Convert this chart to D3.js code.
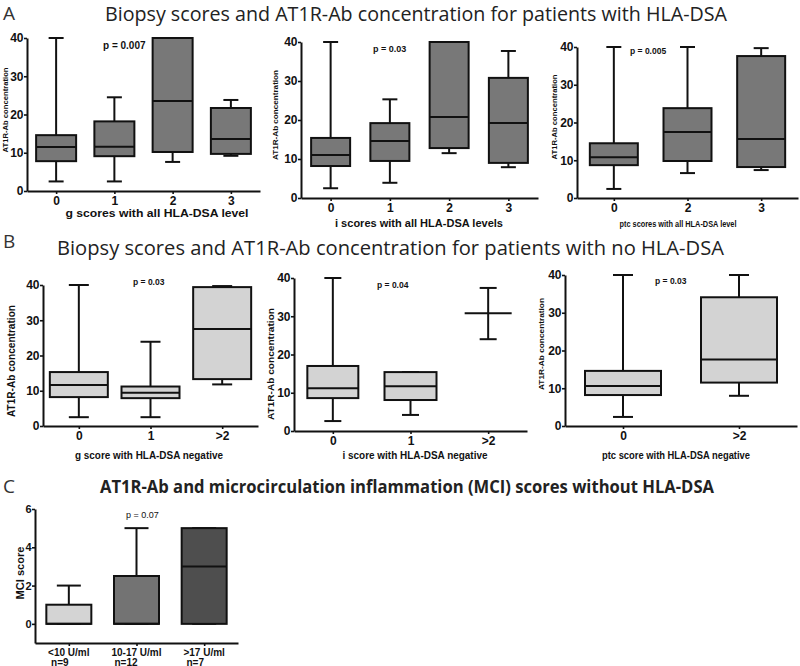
<!DOCTYPE html>
<html><head><meta charset="utf-8">
<script src="https://cdn.jsdelivr.net/npm/d3@7"></script>
<style>body{margin:0;background:#fff}svg{display:block}</style>
</head><body>
<script>
// ---------- DATA ----------
// Panel A: patients with HLA-DSA
const aG_cats = ["0","1","2","3"];
const aG_min  = [2.5, 2.5, 7.6, 9.2];
const aG_q1   = [7.8, 9.1, 10.2, 9.7];
const aG_med  = [11.5, 11.6, 23.5, 13.6];
const aG_q3   = [14.6, 18.2, 40, 21.7];
const aG_max  = [40, 24.5, 40, 23.8];

const aI_cats = ["0","1","2","3"];
const aI_min  = [2.5, 3.9, 11.5, 7.9];
const aI_q1   = [8.2, 9.5, 12.8, 9.0];
const aI_med  = [11.0, 14.6, 20.8, 19.2];
const aI_q3   = [15.4, 19.2, 40, 30.8];
const aI_max  = [40, 25.3, 40, 37.7];

const aP_cats = ["0","2","3"];
const aP_min  = [2.4, 6.6, 7.4];
const aP_q1   = [8.7, 9.8, 8.2];
const aP_med  = [10.8, 17.5, 15.6];
const aP_q3   = [14.5, 23.8, 37.6];
const aP_max  = [40, 40, 39.7];

// Panel B: patients with no HLA-DSA
const bG_cats = ["0","1",">2"];
const bG_min  = [2.5, 2.5, 11.8];
const bG_q1   = [8.2, 7.9, 13.3];
const bG_med  = [11.6, 9.4, 27.5];
const bG_q3   = [15.3, 11.2, 39.4];
const bG_max  = [40, 23.9, 39.7];

const bI_cats = ["0","1",">2"];
const bI_min  = [2.6, 4.2, 24.0];
const bI_q1   = [8.6, 8.1, 30.8];
const bI_med  = [11.2, 11.7, 30.8];
const bI_q3   = [17.0, 15.4, 30.8];
const bI_max  = [40, 15.4, 37.4];

const bP_cats = ["0",">2"];
const bP_min  = [2.4, 8.0];
const bP_q1   = [8.2, 11.5];
const bP_med  = [10.6, 17.6];
const bP_q3   = [14.6, 34.1];
const bP_max  = [40, 40];

// Panel C: MCI scores
const c_cats  = ["<10 U/ml","10-17 U/ml",">17 U/ml"];
const c_n     = ["n=9","n=12","n=7"];
const c_min   = [0, 0, 0];
const c_q1    = [0, 0, 0];
const c_med   = [0, 0, 3];
const c_q3    = [1, 2.5, 5];
const c_max   = [2, 5, 5];

const abTicks = [0,10,20,30,40];
const cTicks  = [0,2,4,6];

// ---------- DRAWING ----------
const svg = d3.select("body").append("svg").attr("width",800).attr("height",666)
  .style("background","#fff");
const INK = "#111";
const LBL = "'Liberation Sans', Arial, sans-serif";
const TTL = "'Open Sans', 'Noto Sans', sans-serif";

function txt(t, x, y, o) {
  const e = svg.append("text").attr("x",x).attr("y",y).text(t)
    .attr("font-family", o.family||LBL).attr("font-size", o.size)
    .attr("font-weight", o.weight||"bold").attr("fill", o.fill||INK)
    .attr("text-anchor", o.anchor||"start");
  if (o.len) e.attr("textLength", o.len).attr("lengthAdjust","spacingAndGlyphs");
  if (o.rot) e.attr("transform",`rotate(-90,${x},${y})`).attr("dy","0.35em");
  return e;
}

function drawPanel(p) {
  const g = svg.append("g");
  const x = d3.scalePoint().domain(p.cats).range([p.x0, p.x1]).padding(0.5);
  const y = d3.scaleLinear().domain(p.domain).range([p.yBot, p.yTop]);

  const ya = g.append("g").attr("transform",`translate(${p.x0},0)`)
    .call(d3.axisLeft(y).tickValues(p.ticks).tickFormat(d3.format("d"))
      .tickSize(3).tickSizeOuter(0).tickPadding(0.5));
  const xa = g.append("g").attr("transform",`translate(0,${p.yBot})`)
    .call(d3.axisBottom(x).tickSize(3).tickSizeOuter(0).tickPadding(2)
      .tickFormat(p.customX ? () => "" : d => d));
  [ya, xa].forEach(a => {
    a.select(".domain").attr("stroke", INK).attr("stroke-width", 2);
    a.selectAll(".tick line").attr("stroke", INK).attr("stroke-width", 1.6);
    a.selectAll(".tick text").attr("fill", INK).attr("font-family", LBL)
      .attr("font-weight","bold").attr("font-size", p.tickSize);
  });

  const cap = p.cap;
  p.cats.forEach((c, i) => {
    const cx = x(c), w = Array.isArray(p.boxW) ? p.boxW[i] : p.boxW;
    const fill = Array.isArray(p.fill) ? p.fill[i] : p.fill;
    const wh = g.append("g").attr("stroke", INK).attr("stroke-width", 2);
    wh.append("line").attr("x1",cx).attr("x2",cx).attr("y1",y(p.max[i])).attr("y2",y(p.q3[i]));
    wh.append("line").attr("x1",cx).attr("x2",cx).attr("y1",y(p.q1[i])).attr("y2",y(p.min[i]));
    wh.append("line").attr("x1",cx-cap/2).attr("x2",cx+cap/2).attr("y1",y(p.max[i])).attr("y2",y(p.max[i]));
    wh.append("line").attr("x1",cx-cap/2).attr("x2",cx+cap/2).attr("y1",y(p.min[i])).attr("y2",y(p.min[i]));
    g.append("rect").attr("x",cx-w/2).attr("width",w)
      .attr("y",y(p.q3[i])).attr("height",Math.max(0,y(p.q1[i])-y(p.q3[i])))
      .attr("fill",fill).attr("stroke",INK).attr("stroke-width",2);
    g.append("line").attr("x1",cx-w/2).attr("x2",cx+w/2)
      .attr("y1",y(p.med[i])).attr("y2",y(p.med[i]))
      .attr("stroke",INK).attr("stroke-width",2);
  });
  return {x, y};
}

// Titles and panel letters
txt("A", 3, 20, {family:TTL, size:19, weight:"normal", fill:"#333"});
txt("Biopsy scores and AT1R-Ab concentration for patients with HLA-DSA", 105, 21,
    {family:TTL, size:20, weight:"normal", fill:"#222", len:622});
txt("B", 3, 248, {family:TTL, size:19, weight:"normal", fill:"#333"});
txt("Biopsy scores and AT1R-Ab concentration for patients with no HLA-DSA", 57, 255,
    {family:TTL, size:20.5, weight:"normal", fill:"#222", len:667});
txt("C", 3, 493, {family:TTL, size:19, weight:"normal", fill:"#333"});
txt("AT1R-Ab and microcirculation inflammation (MCI) scores without HLA-DSA", 100, 493,
    {family:TTL, size:18, weight:"bold", fill:"#222", len:614});

const greyA = "#787878", greyB = "#d3d3d3";

// A1
drawPanel({cats:aG_cats, min:aG_min, q1:aG_q1, med:aG_med, q3:aG_q3, max:aG_max,
  x0:27, x1:260, yTop:38, yBot:191, domain:[0,40], ticks:abTicks, boxW:40, cap:15,
  fill:greyA, tickSize:12});
txt("p = 0.007", 103, 49, {size:10});
txt("g scores with all HLA-DSA level", 157, 217, {size:10.5, anchor:"middle", len:183});
txt("AT1R-Ab concentration", 5.5, 110, {size:7.5, anchor:"middle", rot:true, len:85});

// A2
drawPanel({cats:aI_cats, min:aI_min, q1:aI_q1, med:aI_med, q3:aI_q3, max:aI_max,
  x0:301, x1:538, yTop:42, yBot:198, domain:[0,40], ticks:abTicks, boxW:39, cap:15,
  fill:greyA, tickSize:12});
txt("p = 0.03", 373, 52, {size:9});
txt("i scores with all HLA-DSA levels", 419, 227, {size:10, anchor:"middle", len:168});
txt("AT1R-Ab concentration", 275, 115, {size:7.5, anchor:"middle", rot:true, len:90});

// A3
drawPanel({cats:aP_cats, min:aP_min, q1:aP_q1, med:aP_med, q3:aP_q3, max:aP_max,
  x0:577, x1:798, yTop:47, yBot:198, domain:[0,40], ticks:abTicks, boxW:48, cap:15,
  fill:greyA, tickSize:12});
txt("p = 0.005", 630, 54, {size:8.5});
txt("ptc scores with all HLA-DSA level", 678, 227, {size:8.5, anchor:"middle", len:117});
txt("AT1R-Ab concentration", 554, 117, {size:7.5, anchor:"middle", rot:true, len:85});

// B1
drawPanel({cats:bG_cats, min:bG_min, q1:bG_q1, med:bG_med, q3:bG_q3, max:bG_max,
  x0:43, x1:258, yTop:285, yBot:426, domain:[0,40], ticks:abTicks, boxW:58, cap:20,
  fill:greyB, tickSize:12});
txt("p = 0.03", 133, 285, {size:8.5});
txt("g score with HLA-DSA negative", 149, 459, {size:10, anchor:"middle", len:148});
txt("AT1R-Ab concentration", 11, 361, {size:10, anchor:"middle", rot:true, len:112});

// B2
drawPanel({cats:bI_cats, min:bI_min, q1:bI_q1, med:bI_med, q3:bI_q3, max:bI_max,
  x0:294, x1:527, yTop:278, yBot:431, domain:[0,40], ticks:abTicks, boxW:[51,52,47], cap:17,
  fill:greyB, tickSize:12});
txt("p = 0.04", 377, 288, {size:8.5});
txt("i score with HLA-DSA negative", 415, 459, {size:10, anchor:"middle", len:145});
txt("AT1R-Ab concentration", 271, 364, {size:9.5, anchor:"middle", rot:true, len:112});

// B3
drawPanel({cats:bP_cats, min:bP_min, q1:bP_q1, med:bP_med, q3:bP_q3, max:bP_max,
  x0:565, x1:797, yTop:275, yBot:426, domain:[0,40], ticks:abTicks, boxW:76, cap:20,
  fill:greyB, tickSize:12});
txt("p = 0.03", 655, 284, {size:8.5});
txt("ptc score with HLA-DSA negative", 676, 459, {size:10, anchor:"middle", len:148});
txt("AT1R-Ab concentration", 541, 344, {size:8, anchor:"middle", rot:true, len:92});

// C
const cP = drawPanel({cats:c_cats, min:c_min, q1:c_q1, med:c_med, q3:c_q3, max:c_max,
  x0:35, x1:238, yTop:509, yBot:643, domain:[-1,6], ticks:cTicks, boxW:45, cap:24,
  fill:["#d4d4d4","#737373","#4e4e4e"], tickSize:11, customX:true});
txt("p = 0.07", 126, 518, {size:9, weight:"normal"});
txt("MCI score", 20, 573, {size:11, anchor:"middle", rot:true, len:53});
c_cats.forEach((c, i) => {
  const cx = cP.x(c);
  const t = txt(c, cx, 656, {size:10, anchor:"middle"});
  const w = t.node().getComputedTextLength();
  txt(c_n[i], cx - w/2 + 3, 665.5, {size:10});
});
</script>
</body></html>
